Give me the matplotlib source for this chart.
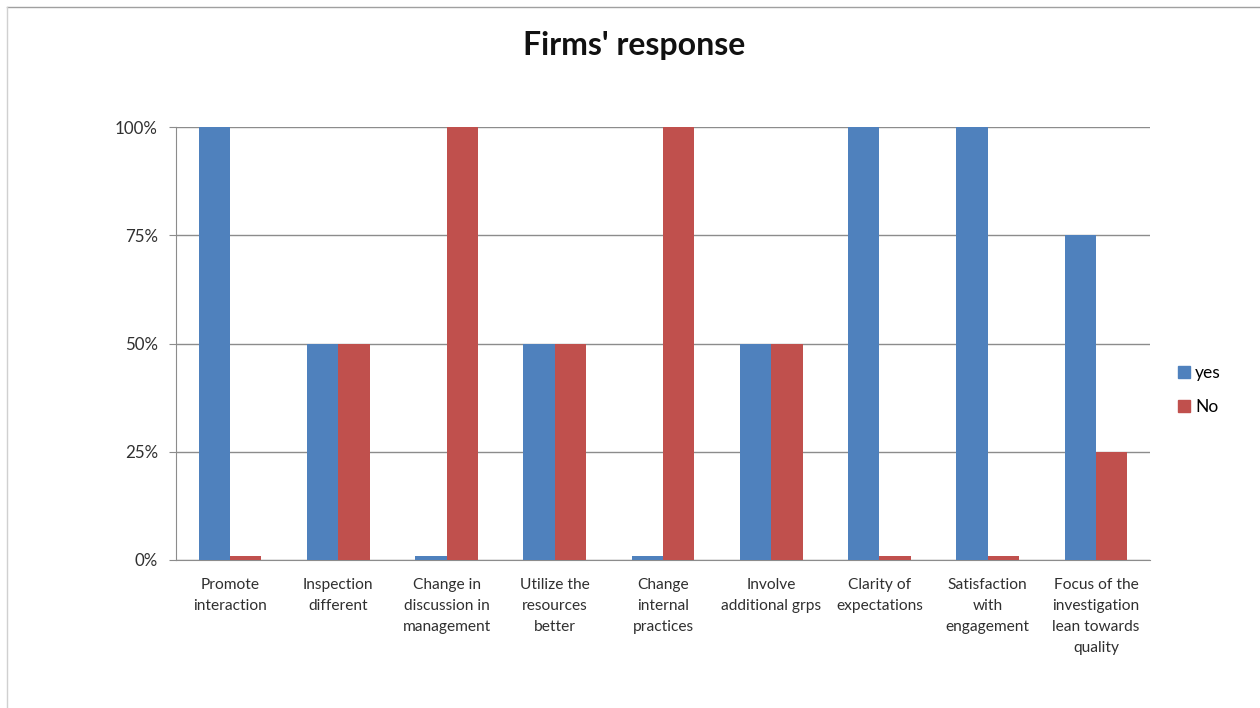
import matplotlib
matplotlib.use("Agg")
import matplotlib.pyplot as plt
import numpy as np
from matplotlib.lines import Line2D
from matplotlib.patches import Patch

categories = ["Promote\ninteraction", "Inspection\ndifferent", "Change in\ndiscussion in\nmanagement",
              "Utilize the\nresources\nbetter", "Change\ninternal\npractices", "Involve\nadditional grps",
              "Clarity of\nexpectations", "Satisfaction\nwith\nengagement",
              "Focus of the\ninvestigation\nlean towards\nquality"]
yes_vals = [100, 50, 1, 50, 1, 50, 100, 100, 75]
no_vals = [1, 50, 100, 50, 100, 50, 1, 1, 25]
yticks = [0, 25, 50, 75, 100]
ytick_labels = ["0%", "25%", "50%", "75%", "100%"]

plt.rcParams['font.family'] = ['Lato', 'DejaVu Sans']

fig = plt.figure(figsize=(12.6, 7.08), dpi=100)
W, H = 1260, 708
ax = fig.add_axes([176 / W, 1 - 560 / H, (1150 - 176) / W, (560 - 127) / H])

blue = "#4F81BD"
red = "#C0504D"
grid = "#8c8c8c"

x = np.arange(len(categories))
bw = 0.29
ax.bar(x - bw / 2, yes_vals, bw, color=blue, zorder=3)
ax.bar(x + bw / 2, no_vals, bw, color=red, zorder=3)

ax.set_xlim(-0.5, len(categories) - 0.5)
ax.set_ylim(0, 100)
ax.set_yticks(yticks)
ax.set_yticklabels(ytick_labels, fontsize=12.2, color="#303030")
ax.set_xticks(x)
ax.set_xticklabels(categories, fontsize=11.2, color="#303030", linespacing=1.64)
ax.tick_params(axis='x', length=0, pad=13)
ax.tick_params(axis='y', length=5, color=grid, pad=8)
ax.yaxis.grid(True, color=grid, linewidth=1, zorder=0)
for s in ["top", "right"]:
    ax.spines[s].set_visible(False)
ax.spines["left"].set_color(grid)
ax.spines["bottom"].set_color(grid)

fig.text(634 / W, 1 - 45 / H, "Firms' response", ha="center", va="center",
         fontsize=23, fontweight="bold", color="#111111")

handles = [Patch(color=blue, label="yes"), Patch(color=red, label="No")]
fig.legend(handles=handles, loc="center left", bbox_to_anchor=(1162 / W, 1 - 390 / H),
           frameon=False, fontsize=12.5, handlelength=0.7, handleheight=0.7,
           handletextpad=0.3, labelspacing=1.0)

fig.add_artist(Line2D([7 / W, 1], [1 - 7 / H, 1 - 7 / H], color="#a0a0a0", lw=1, transform=fig.transFigure))
fig.add_artist(Line2D([7 / W, 7 / W], [0, 1 - 7 / H], color="#d0d0d0", lw=1, transform=fig.transFigure))

fig.savefig("out.png", dpi=100)
